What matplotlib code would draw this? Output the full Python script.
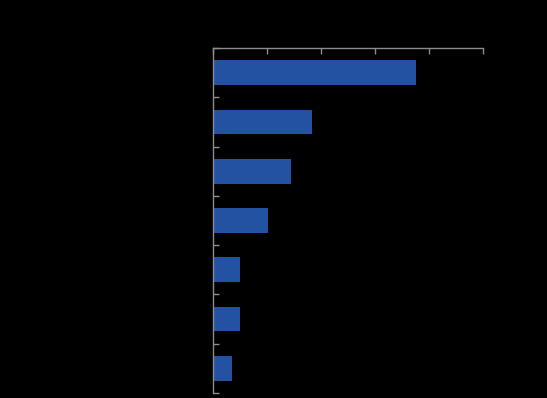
import numpy as np
import matplotlib
matplotlib.use("Agg")
import matplotlib.pyplot as plt

# values (labels are drawn black on black in the source)
categories = ["A", "B", "C", "D", "E", "F", "G"]
values = [37.6, 18.3, 14.4, 10.2, 5.0, 5.0, 3.5]
x_ticks = [0, 10, 20, 30, 40, 50]

BAR = "#2352a3"
AXIS = "#8c8c8c"

fig = plt.figure(figsize=(5.47, 3.98), dpi=100, facecolor="black")
ax = fig.add_axes([213 / 547, 1 - 393 / 398, 270 / 547, 345 / 398])
ax.set_facecolor("black")

pos = np.arange(len(categories))
ax.barh(pos, values, height=0.5, color=BAR)

ax.set_xlim(0, 50)
ax.set_ylim(len(categories) - 0.5, -0.5)

ax.xaxis.set_ticks_position("top")
ax.set_xticks(x_ticks)
ax.set_xticklabels([""] * len(x_ticks))
ax.set_yticks(np.arange(-0.5, len(categories), 1.0))
ax.set_yticklabels([""] * (len(categories) + 1))
ax.tick_params(axis="x", direction="in", length=4, width=1, color=AXIS)
ax.tick_params(axis="y", direction="in", length=4.5, width=1, color=AXIS)

for side in ["right", "bottom"]:
    ax.spines[side].set_visible(False)
for side in ["top", "left"]:
    ax.spines[side].set_color(AXIS)
    ax.spines[side].set_linewidth(1)

fig.savefig("out.png", dpi=100, facecolor="black")
